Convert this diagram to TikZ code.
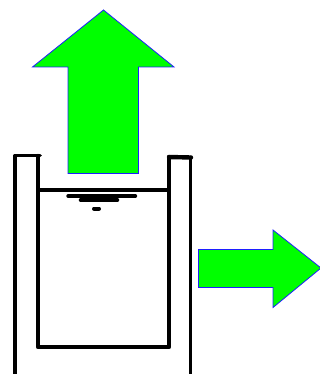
\documentclass[tikz,border=0pt]{standalone}
\definecolor{arrowgreen}{RGB}{0,255,0}
\definecolor{arrowblue}{RGB}{30,30,255}

\begin{document}
\begin{tikzpicture}[x=1pt,y=-1pt,
    flowarrow/.style={draw=arrowblue, fill=arrowgreen, line width=0.8pt, line join=miter},
    wall/.style={black, line width=4.4pt, line cap=round, line join=round},
    thinwall/.style={black, line width=3.8pt, line cap=round, line join=round}]
    \useasboundingbox (0,0) rectangle (320,374);
    \clip (0,0) rectangle (320,374);

    % Up arrow
    \draw[flowarrow] (103.5,10) -- (174,67) -- (138.5,67) -- (138.5,173.5) -- (68,173.5) -- (68,67) -- (32.5,67) -- cycle;

    % Right arrow
    \draw[flowarrow] (321,268) -- (273,307.5) -- (273,287.5) -- (198.5,287.5) -- (198.5,249.5) -- (273,249.5) -- (273,230) -- cycle;

    % Outer wall
    \draw[thinwall] (15,380) -- (15,155.5) -- (40,155.5);
    \draw[thinwall] (190.5,380) -- (190.5,157.5);
    \draw[wall] (169,157) -- (191,157.5);

    % Inner vessel
    \draw[wall] (38,156) -- (38,347) -- (169,347) -- (169,157);

    % Surface
    \draw[line width=3.6pt] (38,190) -- (169,190);
    \draw[line width=3.4pt, line cap=round] (68,196) -- (135.5,196);
    \draw[line width=4.6pt, line cap=round] (81,200) -- (117,200);
    \draw[line width=4pt, line cap=round] (94,208.5) -- (99,208.5);
\end{tikzpicture}
\end{document}
